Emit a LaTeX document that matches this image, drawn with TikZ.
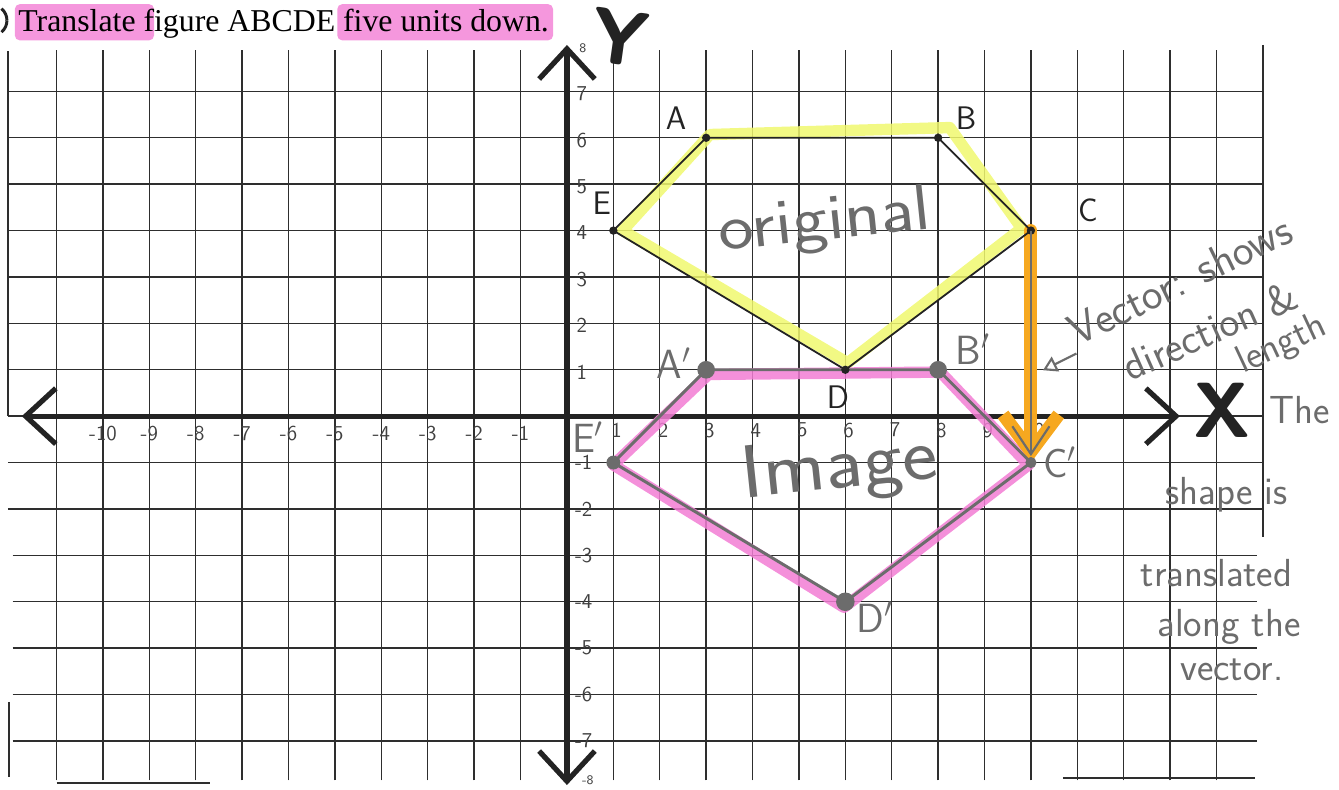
\documentclass[tikz,border=0pt]{standalone}
\usepackage{fontspec}
\setmainfont{Liberation Serif}
\usepackage{tikz}
\usetikzlibrary{arrows.meta, positioning}

\definecolor{hlpink}{RGB}{242,125,212}
\definecolor{hlyellow}{RGB}{240,248,110}
\definecolor{vecorange}{RGB}{246,168,32}
\definecolor{pencil}{RGB}{108,108,108}
\definecolor{inkdark}{RGB}{35,35,35}

\begin{document}
\begin{tikzpicture}[
  % Line styles
  gridline/.style={
    draw=black!82,
    line width=0.85pt,
  },
  axisline/.style={
    draw=inkdark,
    line width=3.2pt,
    line cap=round,
    <->,
    >={Straight Barb[length=6.5mm,width=12mm]},
  },
  yellowmark/.style={
    draw=hlyellow,
    line width=7pt,
    line cap=round,
    line join=round,
    opacity=0.85,
  },
  pinkmark/.style={
    draw=hlpink,
    line width=7pt,
    line cap=round,
    line join=round,
    opacity=0.85,
  },
  origedge/.style={
    draw=inkdark,
    line width=1.1pt,
  },
  imageedge/.style={
    draw=pencil,
    line width=1.8pt,
    line join=round,
  },
  vecband/.style={
    draw=vecorange,
    line width=8pt,
    line cap=round,
    -{Straight Barb[length=8mm,width=12mm]},
  },
  vecpencil/.style={
    draw=pencil,
    line width=1.3pt,
    shorten >=4pt,
    -{Straight Barb[length=6mm,width=8mm]},
  },
  notearrow/.style={
    draw=pencil,
    line width=1.3pt,
    -{Triangle[open,length=3mm,width=3.5mm]},
  },
  % Text styles
  titletext/.style={
    font=\fontsize{19.5}{22}\selectfont,
    text=black,
    inner sep=0pt,
  },
  vlabel/.style={
    font=\fontsize{20}{20}\selectfont\sffamily,
    text=inkdark,
    inner sep=1pt,
  },
  plabel/.style={
    font=\fontsize{25}{25}\selectfont\sffamily,
    text=pencil,
    inner sep=1pt,
  },
  handword/.style={
    font=\fontsize{40}{40}\selectfont\sffamily,
    text=pencil,
    inner sep=0pt,
  },
  note/.style={
    font=\fontsize{24}{24}\selectfont\sffamily,
    text=pencil,
    inner sep=1pt,
  },
  tick/.style={
    font=\fontsize{13}{13}\selectfont\sffamily,
    text=black!75,
    inner sep=0.5pt,
  },
  bigletter/.style={
    font=\fontsize{48}{48}\selectfont\sffamily\bfseries,
    text=inkdark,
    inner sep=0pt,
  },
]

\useasboundingbox (-12.22,-8.04) rectangle (16.64,8.97);

% ── Heading ──
\fill[hlpink, opacity=0.8, rounded corners=3pt] (-11.9,8.1) rectangle (-8.9,8.88);
\fill[hlpink, opacity=0.8, rounded corners=3pt] (-4.95,8.1) rectangle (-0.3,8.88);
\node[titletext, anchor=base west] (title) at (-11.83,8.3) {Translate figure ABCDE five units down.};
\draw[inkdark, line width=1.8pt] (-12.07,8.53) arc (0:50:0.33);
\draw[inkdark, line width=1.8pt] (-12.07,8.53) arc (0:-50:0.33);

% ── Graph paper ──
\foreach \x in {-11,-10,...,-1,1,2,...,14}
  \draw[gridline] (\x,-7.85) -- (\x,7.9);
\draw[gridline] (15,8.0) -- (15,-2.6);
\draw[gridline] (-12.05,7.86) -- (-12.05,0);
\draw[gridline] (-12.03,-6.16) -- (-12.03,-7.78);
\foreach \y in {-2,-1,...,7}
  \draw[gridline] (-12.05,\y) -- (15.02,\y);
\foreach \y in {-7,-6,...,-3}
  \draw[gridline] (-11.95,\y) -- (14.88,\y);
\draw[gridline] (-11,-7.91) -- (-7.7,-7.91);
\draw[gridline] (10.69,-7.8) -- (14.83,-7.8);

% ── Axes ──
\coordinate (xleft) at (-11.75,0);
\coordinate (xright) at (13.21,0);
\coordinate (ybottom) at (0,-7.95);
\coordinate (ytop) at (0,8.0);
\draw[axisline] (xleft) -- (xright);
\draw[axisline] (ybottom) -- (ytop);
\node[bigletter, rotate=-8] (ylet) at (1.14,8.15) {Y};
\node[bigletter] (xlet) at (14.12,0.13) {X};

% tick numbers
\foreach \i in {1,...,10}
  \node[tick] (xtn\i) at (-\i,-0.38) {-\i};
\foreach \i in {1,...,10}
  \node[tick] (xtp\i) at (\i+0.07,-0.3) {\i};
\foreach \i in {1,...,7}
  \node[tick] (ytp\i) at (0.32,\i-0.05) {\i};
\foreach \i in {1,...,7}
  \node[tick] (ytn\i) at (0.36,-\i) {-\i};
\node[tick, font=\fontsize{8}{8}\selectfont\sffamily] (ytp8) at (0.34,7.92) {8};
\node[tick, font=\fontsize{8}{8}\selectfont\sffamily] (ytn8) at (0.45,-7.85) {-8};

% ── Vertices ──
\coordinate (A) at (3,6);
\coordinate (B) at (8,6);
\coordinate (C) at (10,4);
\coordinate (D) at (6,1);
\coordinate (E) at (1,4);
\coordinate (Ap) at (3,1);
\coordinate (Bp) at (8,1);
\coordinate (Cp) at (10,-1);
\coordinate (Dp) at (6,-4);
\coordinate (Ep) at (1,-1);

% highlighter
\draw[yellowmark] ([shift={(0.2,0)}]E) -- ([shift={(0.08,0.07)}]A)
  -- ([shift={(0.25,0.22)}]B) -- ([shift={(-0.2,0.05)}]C)
  -- ([shift={(0.05,0.15)}]D) -- cycle;
\draw[pinkmark] ([shift={(0,-0.05)}]Ep) -- ([shift={(0.05,-0.1)}]Ap)
  -- ([shift={(0.05,-0.05)}]Bp) -- ([shift={(-0.05,-0.05)}]Cp)
  -- ([shift={(-0.03,-0.12)}]Dp) -- cycle;
\draw[vecband] (C) -- (Cp);

% ── Figures ──
\draw[origedge] (A) -- (B) -- (C) -- (D) -- (E) -- cycle;
\draw[imageedge] (Ap) -- (Bp) -- (Cp) -- (Dp) -- (Ep) -- cycle;
\foreach \p in {A,B,C,D,E}
  \fill[inkdark] (\p) circle (0.09);
\foreach \p/\r in {Ap/0.19,Bp/0.19,Cp/0.12,Dp/0.2,Ep/0.15}
  \fill[pencil] (\p) circle (\r);
\draw[vecpencil] (C) -- (Cp);

% vertex labels
\node[vlabel] (lblA) at (2.35,6.43) {A};
\node[vlabel] (lblB) at (8.6,6.43) {B};
\node[vlabel] (lblC) at (11.23,4.44) {C};
\node[vlabel] (lblD) at (5.84,0.41) {D};
\node[vlabel] (lblE) at (0.75,4.59) {E};
\node[plabel] (lblAp) at (2.3,1.15) {A$'$};
\node[plabel] (lblBp) at (8.75,1.45) {B$'$};
\node[plabel] (lblCp) at (10.62,-1.0) {C$'$};
\node[plabel] (lblDp) at (6.64,-4.33) {D$'$};
\node[plabel] (lblEp) at (0.45,-0.45) {E$'$};

% figure names
\node[handword, rotate=6, xscale=1.15] (orig) at (5.56,4.15) {original};
\node[handword, rotate=6, xscale=1.12, font=\fontsize{46}{46}\selectfont\sffamily] (img) at (5.88,-1.15) {Image};

% ── Notes ──
\node[note, rotate=26, font=\fontsize{27}{27}\selectfont\sffamily] (note1) at (13.21,2.93) {Vector: shows};
\node[note, rotate=24, font=\fontsize{26}{26}\selectfont\sffamily] (note2) at (13.86,1.85) {direction \&};
\node[note, rotate=25] (note3) at (15.41,1.53) {length};
\node[note] (note4) at (15.8,0.13) {The};
\node[note] (note5) at (14.22,-1.70) {shape is};
\node[note] (note6) at (14.0,-3.38) {translated};
\node[note] (note7) at (14.27,-4.55) {along the};
\node[note] (note8) at (14.33,-5.47) {vector.};
\coordinate (vtail) at (10.98,1.35);
\coordinate (vtip) at (10.26,0.99);
\draw[notearrow] (vtail) -- (vtip);

\end{tikzpicture}
\end{document}
